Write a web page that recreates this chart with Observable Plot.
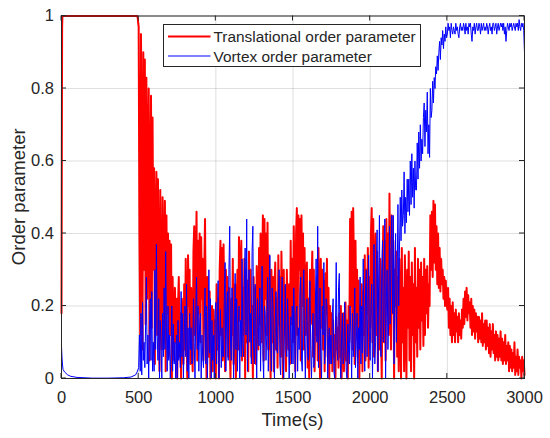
<!DOCTYPE html>
<html>
<head>
<meta charset="utf-8">
<script src="https://cdn.jsdelivr.net/npm/d3@7"></script>
<script src="https://cdn.jsdelivr.net/npm/@observablehq/plot@0.6"></script>
<style>
  html, body { margin: 0; padding: 0; background: #fff; }
  #chart { width: 550px; height: 438px; }
</style>
</head>
<body>
<div id="chart"></div>
<script>
// ---- data ----
const xTicks = [0, 500, 1000, 1500, 2000, 2500, 3000];
const xTickLabels = ["0", "500", "1000", "1500", "2000", "2500", "3000"];
const yTicks = [0, 0.2, 0.4, 0.6, 0.8, 1];
const yTickLabels = ["0", "0.2", "0.4", "0.6", "0.8", "1"];
const seriesNames = ["Translational order parameter", "Vortex order parameter"];

// early, smooth part (t < 500)
const redEarlyT = [0, 2, 4, 6, 490, 494, 497];
const redEarlyV = [0.18, 0.6, 0.97, 1.0, 1.0, 0.995, 0.98];
const blueEarlyT = [0, 3, 6, 10, 20, 40, 60, 100, 200, 300, 400, 450, 480, 490];
const blueEarlyV = [0.09, 0.06, 0.04, 0.025, 0.018, 0.01, 0.006, 0.003, 0.001, 0.001, 0.002, 0.004, 0.01, 0.018];

// noisy part, sampled every 5 s from 500 to 3000 (one row = 50 s)
const redNoisy = [
0.97,0.40,0.12,0.95,0.60,0.08,0.90,0.30,0.88,0.15,
0.83,0.22,0.62,0.80,0.05,0.48,0.78,0.14,0.72,0.30,
0.58,0.04,0.40,0.57,0.12,0.55,0.25,0.02,0.52,0.20,
0.08,0.50,0.33,0.10,0.49,0.02,0.45,0.18,0.40,0.06,
0.38,0.12,0.37,0.00,0.28,0.15,0.05,0.25,0.10,0.22,
0.00,0.20,0.28,0.06,0.18,0.00,0.22,0.12,0.04,0.26,
0.08,0.33,0.15,0.00,0.34,0.20,0.30,0.04,0.25,0.10,
0.02,0.35,0.42,0.12,0.30,0.46,0.05,0.38,0.18,0.40,
0.10,0.39,0.22,0.33,0.05,0.30,0.44,0.14,0.00,0.28,
0.20,0.06,0.24,0.00,0.15,0.20,0.02,0.19,0.10,0.16,
0.00,0.26,0.08,0.22,0.00,0.30,0.38,0.12,0.36,0.05,
0.37,0.20,0.02,0.30,0.15,0.28,0.06,0.25,0.10,0.00,
0.22,0.12,0.33,0.04,0.20,0.26,0.00,0.18,0.30,0.08,
0.39,0.16,0.30,0.38,0.05,0.25,0.12,0.33,0.00,0.30,
0.10,0.27,0.02,0.35,0.18,0.30,0.06,0.20,0.00,0.28,
0.12,0.25,0.04,0.31,0.20,0.08,0.36,0.15,0.40,0.10,
0.30,0.45,0.05,0.44,0.22,0.40,0.12,0.43,0.08,0.34,
0.18,0.00,0.30,0.10,0.28,0.02,0.25,0.32,0.08,0.22,
0.03,0.34,0.15,0.28,0.06,0.35,0.20,0.00,0.30,0.12,
0.25,0.02,0.30,0.18,0.08,0.26,0.04,0.38,0.15,0.33,
0.10,0.42,0.25,0.02,0.40,0.47,0.12,0.45,0.30,0.44,
0.05,0.45,0.20,0.40,0.08,0.36,0.12,0.28,0.32,0.03,
0.22,0.00,0.30,0.15,0.25,0.35,0.06,0.30,0.02,0.24,
0.12,0.28,0.05,0.36,0.20,0.00,0.33,0.14,0.30,0.08,
0.27,0.02,0.29,0.18,0.33,0.06,0.25,0.00,0.20,0.10,
0.18,0.02,0.16,0.06,0.12,0.00,0.17,0.08,0.14,0.03,
0.18,0.06,0.20,0.00,0.14,0.18,0.02,0.12,0.21,0.05,
0.16,0.00,0.20,0.10,0.44,0.20,0.46,0.08,0.47,0.30,
0.04,0.38,0.15,0.30,0.06,0.27,0.00,0.20,0.12,0.26,
0.02,0.24,0.12,0.34,0.05,0.30,0.18,0.36,0.03,0.28,
0.14,0.40,0.47,0.10,0.44,0.06,0.30,0.40,0.12,0.35,
0.02,0.23,0.08,0.33,0.15,0.00,0.28,0.42,0.10,0.38,
0.05,0.44,0.20,0.40,0.12,0.51,0.25,0.08,0.45,0.18,
0.38,0.00,0.30,0.20,0.35,0.06,0.28,0.02,0.33,0.15,
0.00,0.36,0.10,0.25,0.02,0.34,0.18,0.00,0.30,0.14,
0.35,0.05,0.28,0.02,0.32,0.12,0.26,0.00,0.36,0.10,
0.25,0.06,0.33,0.14,0.30,0.08,0.32,0.16,0.28,0.09,
0.33,0.12,0.30,0.18,0.31,0.14,0.26,0.20,0.45,0.30,
0.46,0.28,0.49,0.32,0.48,0.30,0.42,0.26,0.40,0.25,
0.36,0.24,0.33,0.26,0.30,0.22,0.28,0.20,0.27,0.21,
0.19,0.25,0.14,0.22,0.12,0.20,0.10,0.21,0.12,0.18,
0.10,0.19,0.13,0.17,0.10,0.18,0.12,0.16,0.11,0.19,
0.14,0.22,0.15,0.24,0.17,0.25,0.16,0.23,0.18,0.21,
0.14,0.22,0.12,0.20,0.13,0.19,0.11,0.18,0.13,0.17,
0.10,0.17,0.11,0.16,0.10,0.18,0.09,0.15,0.10,0.16,
0.08,0.16,0.09,0.14,0.07,0.15,0.06,0.13,0.08,0.15,
0.07,0.12,0.05,0.13,0.06,0.12,0.05,0.11,0.06,0.13,
0.05,0.11,0.04,0.10,0.05,0.12,0.04,0.09,0.05,0.10,
0.02,0.09,0.03,0.08,0.02,0.07,0.03,0.10,0.01,0.06,
0.02,0.08,0.01,0.06,0.03,0.05,0.00,0.06,0.02,0.05,
0.01
];
const blueNoisy = [
0.03,0.12,0.02,0.18,0.01,0.21,0.05,0.10,0.03,0.15,
0.28,0.04,0.12,0.00,0.15,0.22,0.05,0.24,0.02,0.10,
0.02,0.30,0.08,0.37,0.12,0.05,0.22,0.00,0.16,0.10,
0.00,0.18,0.06,0.25,0.08,0.35,0.14,0.02,0.20,0.05,
0.12,0.00,0.08,0.20,0.02,0.15,0.04,0.10,0.00,0.12,
0.00,0.16,0.05,0.10,0.03,0.24,0.06,0.18,0.00,0.12,
0.20,0.06,0.26,0.02,0.14,0.00,0.18,0.08,0.14,0.04,
0.05,0.22,0.10,0.00,0.18,0.28,0.08,0.20,0.02,0.15,
0.18,0.00,0.12,0.06,0.03,0.16,0.25,0.04,0.20,0.00,
0.10,0.30,0.07,0.22,0.00,0.16,0.05,0.12,0.00,0.18,
0.21,0.04,0.15,0.27,0.00,0.12,0.19,0.03,0.14,0.06,
0.06,0.22,0.32,0.02,0.18,0.24,0.05,0.30,0.42,0.10,
0.05,0.25,0.18,0.00,0.12,0.29,0.08,0.22,0.02,0.14,
0.20,0.00,0.16,0.06,0.33,0.10,0.06,0.28,0.36,0.12,
0.44,0.02,0.22,0.30,0.10,0.18,0.04,0.35,0.42,0.08,
0.04,0.26,0.12,0.00,0.22,0.14,0.09,0.25,0.02,0.18,
0.31,0.06,0.00,0.20,0.18,0.05,0.12,0.28,0.02,0.22,
0.34,0.10,0.02,0.25,0.20,0.06,0.00,0.15,0.24,0.08,
0.07,0.22,0.30,0.04,0.01,0.19,0.28,0.06,0.00,0.14,
0.26,0.08,0.06,0.22,0.15,0.00,0.10,0.17,0.04,0.20,
0.04,0.25,0.12,0.00,0.18,0.20,0.02,0.14,0.08,0.24,
0.28,0.05,0.02,0.22,0.30,0.10,0.00,0.16,0.22,0.06,
0.05,0.18,0.27,0.08,0.00,0.12,0.18,0.03,0.06,0.20,
0.33,0.10,0.42,0.03,0.15,0.25,0.06,0.00,0.20,0.12,
0.32,0.04,0.08,0.22,0.20,0.00,0.10,0.14,0.04,0.12,
0.04,0.18,0.22,0.02,0.00,0.14,0.32,0.08,0.05,0.25,
0.29,0.06,0.00,0.12,0.18,0.04,0.06,0.21,0.10,0.02,
0.00,0.15,0.08,0.04,0.20,0.12,0.00,0.18,0.06,0.10,
0.25,0.03,0.10,0.18,0.00,0.14,0.08,0.28,0.04,0.20,
0.07,0.33,0.12,0.02,0.24,0.30,0.06,0.18,0.34,0.10,
0.05,0.20,0.26,0.00,0.15,0.37,0.04,0.10,0.30,0.41,
0.02,0.28,0.45,0.12,0.06,0.30,0.38,0.10,0.20,0.44,
0.00,0.22,0.30,0.08,0.16,0.42,0.15,0.35,0.45,0.18,
0.45,0.04,0.30,0.40,0.10,0.28,0.48,0.20,0.36,0.50,
0.38,0.52,0.42,0.45,0.57,0.40,0.50,0.43,0.55,0.46,
0.55,0.45,0.60,0.48,0.62,0.50,0.58,0.47,0.60,0.52,
0.52,0.65,0.55,0.68,0.58,0.70,0.60,0.66,0.62,0.72,
0.76,0.64,0.74,0.68,0.79,0.62,0.70,0.61,0.80,0.72,
0.74,0.82,0.76,0.83,0.80,0.86,0.84,0.89,0.85,0.90,
0.93,0.88,0.94,0.92,0.96,0.91,0.95,0.93,0.97,0.94,
0.95,0.98,0.96,0.97,0.94,0.98,0.96,0.95,0.97,0.96,
0.95,0.98,0.96,0.97,0.95,0.94,0.97,0.98,0.96,0.97,
0.96,0.98,0.97,0.95,0.98,0.96,0.97,0.95,0.98,0.97,
0.98,0.95,0.93,0.97,0.96,0.98,0.95,0.97,0.98,0.96,
0.96,0.98,0.97,0.95,0.98,0.96,0.97,0.98,0.96,0.97,
0.96,0.98,0.97,0.95,0.97,0.98,0.96,0.97,0.95,0.98,
0.98,0.96,0.97,0.98,0.95,0.97,0.98,0.96,0.97,0.98,
0.97,0.98,0.96,0.98,0.95,0.97,0.93,0.96,0.98,0.97,
0.96,0.98,0.97,0.98,0.96,0.97,0.98,0.97,0.96,0.98,
0.97,0.98,0.96,0.99,0.97,0.96,0.98,0.97,0.98,0.96,
0.90
];
const noisyTimes = d3.range(500, 3001, 5); // sampling grid

// ---- build tables ----
const red = redEarlyT.map((t, i) => ({t, v: redEarlyV[i]}))
  .concat(noisyTimes.map((t, i) => ({t, v: redNoisy[i]})));
const blue = blueEarlyT.map((t, i) => ({t, v: blueEarlyV[i]}))
  .concat(noisyTimes.map((t, i) => ({t, v: blueNoisy[i]})));

const RED = "#ff0000", BLUE = "#0000ff", INK = "#262626";
const FONT = "'Liberation Sans', Arial, Helvetica, sans-serif";

const plot = Plot.plot({
  width: 550,
  height: 438,
  marginLeft: 61,
  marginRight: 26,
  marginTop: 15.5,
  marginBottom: 60,
  style: {fontFamily: FONT, background: "#fff", color: INK, overflow: "visible"},
  x: {domain: [0, 3000]},
  y: {domain: [0, 1]},
  marks: [
    Plot.gridX(xTicks, {stroke: INK, strokeOpacity: 0.15, strokeWidth: 1}),
    Plot.gridY(yTicks, {stroke: INK, strokeOpacity: 0.15, strokeWidth: 1}),
    Plot.line(red, {x: "t", y: "v", stroke: RED, strokeWidth: 2, strokeLinejoin: "round"}),
    Plot.line(blue, {x: "t", y: "v", stroke: BLUE, strokeWidth: 1}),
    Plot.frame({stroke: INK, strokeWidth: 1}),
    Plot.axisX(xTicks, {anchor: "bottom", tickSize: 0, tickPadding: 13, fontSize: 16.5, label: null, fill: INK,
      tickFormat: d => xTickLabels[xTicks.indexOf(d)]}),
    Plot.axisY(yTicks, {anchor: "left", tickSize: 0, tickPadding: 7.5, fontSize: 16.5, label: null, fill: INK,
      tickFormat: d => yTickLabels[yTicks.indexOf(d)]})
  ]
});

document.getElementById("chart").appendChild(plot);

// ---- inward ticks on all four sides, via the plot's scales ----
const sx = plot.scale("x"), sy = plot.scale("y");
const svg = d3.select(plot);
const x0 = sx.apply(0), x1 = sx.apply(3000), y0 = sy.apply(0), y1 = sy.apply(1);
const T = 5;
const tg = svg.append("g").attr("stroke", INK).attr("stroke-width", 1);
xTicks.forEach(t => {
  const x = sx.apply(t);
  tg.append("line").attr("x1", x).attr("x2", x).attr("y1", y0).attr("y2", y0 - T);
  tg.append("line").attr("x1", x).attr("x2", x).attr("y1", y1).attr("y2", y1 + T);
});
yTicks.forEach(v => {
  const y = sy.apply(v);
  tg.append("line").attr("x1", x0).attr("x2", x0 + T).attr("y1", y).attr("y2", y);
  tg.append("line").attr("x1", x1).attr("x2", x1 - T).attr("y1", y).attr("y2", y);
});

// ---- axis titles ----
svg.append("text")
  .attr("x", (x0 + x1) / 2).attr("y", 426)
  .attr("text-anchor", "middle")
  .attr("font-family", FONT).attr("font-size", 18.5).attr("fill", INK)
  .text("Time(s)");
svg.append("text")
  .attr("transform", `translate(24.5,${(y0 + y1) / 2}) rotate(-90)`)
  .attr("text-anchor", "middle")
  .attr("font-family", FONT).attr("font-size", 18.5).attr("fill", INK)
  .text("Order parameter");

// ---- legend (inside the axes, top centre) ----
const lg = svg.append("g").attr("font-family", FONT).attr("font-size", 15.4).attr("fill", INK)
  .attr("text-anchor", "start");
lg.append("rect").attr("x", 163.5).attr("y", 24.5).attr("width", 257).attr("height", 42)
  .attr("fill", "#fff").attr("stroke", INK).attr("stroke-width", 1);
const rows = [{name: seriesNames[0], color: RED, w: 2, y: 36.5}, {name: seriesNames[1], color: BLUE, w: 1, y: 56}];
rows.forEach(r => {
  lg.append("line").attr("x1", 168).attr("x2", 210.5).attr("y1", r.y).attr("y2", r.y)
    .attr("stroke", r.color).attr("stroke-width", r.w);
  lg.append("text").attr("x", 213.5).attr("y", r.y + 5.6).attr("text-anchor", "start").text(r.name);
});
</script>
</body>
</html>
